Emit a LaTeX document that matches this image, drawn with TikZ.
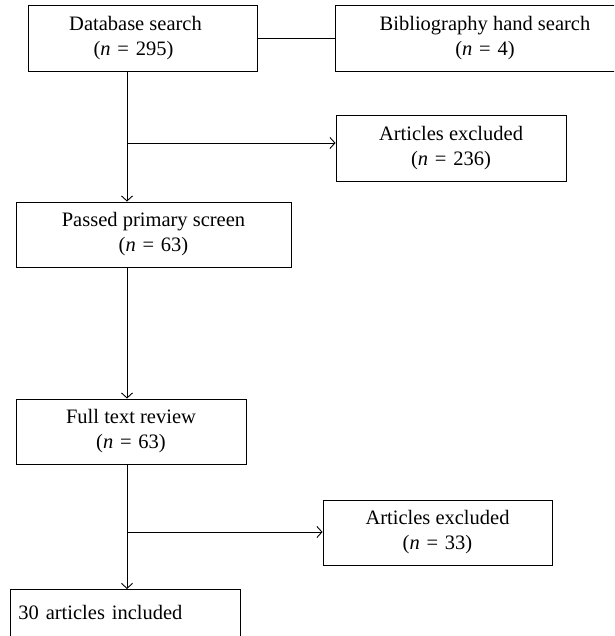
\documentclass[tikz,border=0pt]{standalone}
\usepackage{fontspec}
\setmainfont{Liberation Serif}
\usetikzlibrary{arrows.meta}
\begin{document}
\begin{tikzpicture}[x=1pt,y=-1pt,
  box/.style={draw,line width=0.9pt,inner sep=0pt,align=center,
    font=\fontsize{20.5}{25}\selectfont},
  conn/.style={line width=0.9pt},
  arr/.style={conn,-{Straight Barb[length=5pt,width=11pt,line width=0.9pt]}}]
\clip (0,0) rectangle (614,636);
\fill[white] (0,0) rectangle (614,636);
\newcommand{\nn}[1]{(\textit{n}\,\,=\,\,#1)}
\node[box,minimum width=229pt,minimum height=66pt] (db) at (142.5,38) {\hspace*{-14pt}Database search\\\hspace*{-18pt}\nn{295}};
\node[box,minimum width=300pt,minimum height=66pt] (bib) at (485,38) {Bibliography hand search\\\nn{4}};
\node[box,minimum width=230pt,minimum height=66pt] (ex1) at (451,148) {Articles excluded\\\nn{236}};
\node[box,minimum width=275pt,minimum height=65pt] (pps) at (153.5,234.5) {Passed primary screen\\\nn{63}};
\node[box,minimum width=230pt,minimum height=65pt] (ftr) at (131,431.5) {Full text review\\\nn{63}};
\node[box,minimum width=229pt,minimum height=65pt] (ex2) at (437.5,532.5) {Articles excluded\\\nn{33}};
\node[box,minimum width=230pt,minimum height=50pt,align=left,anchor=north west,
  text width=214pt,inner xsep=8pt] (inc) at (10,589) {\strut30 articles included};
\coordinate (b1) at (127,143);
\coordinate (b2) at (127,532);
\draw[conn] (db.east) -- (bib.west);
\draw[arr] (b1 |- db.south) -- (b1 |- pps.north);
\draw[arr] (b1) -- (b1 -| ex1.west);
\draw[arr] (b1 |- pps.south) -- (b1 |- ftr.north);
\draw[arr] (b2 |- ftr.south) -- (b2 |- inc.north);
\draw[arr] (b2) -- (b2 -| ex2.west);
\end{tikzpicture}
\end{document}
